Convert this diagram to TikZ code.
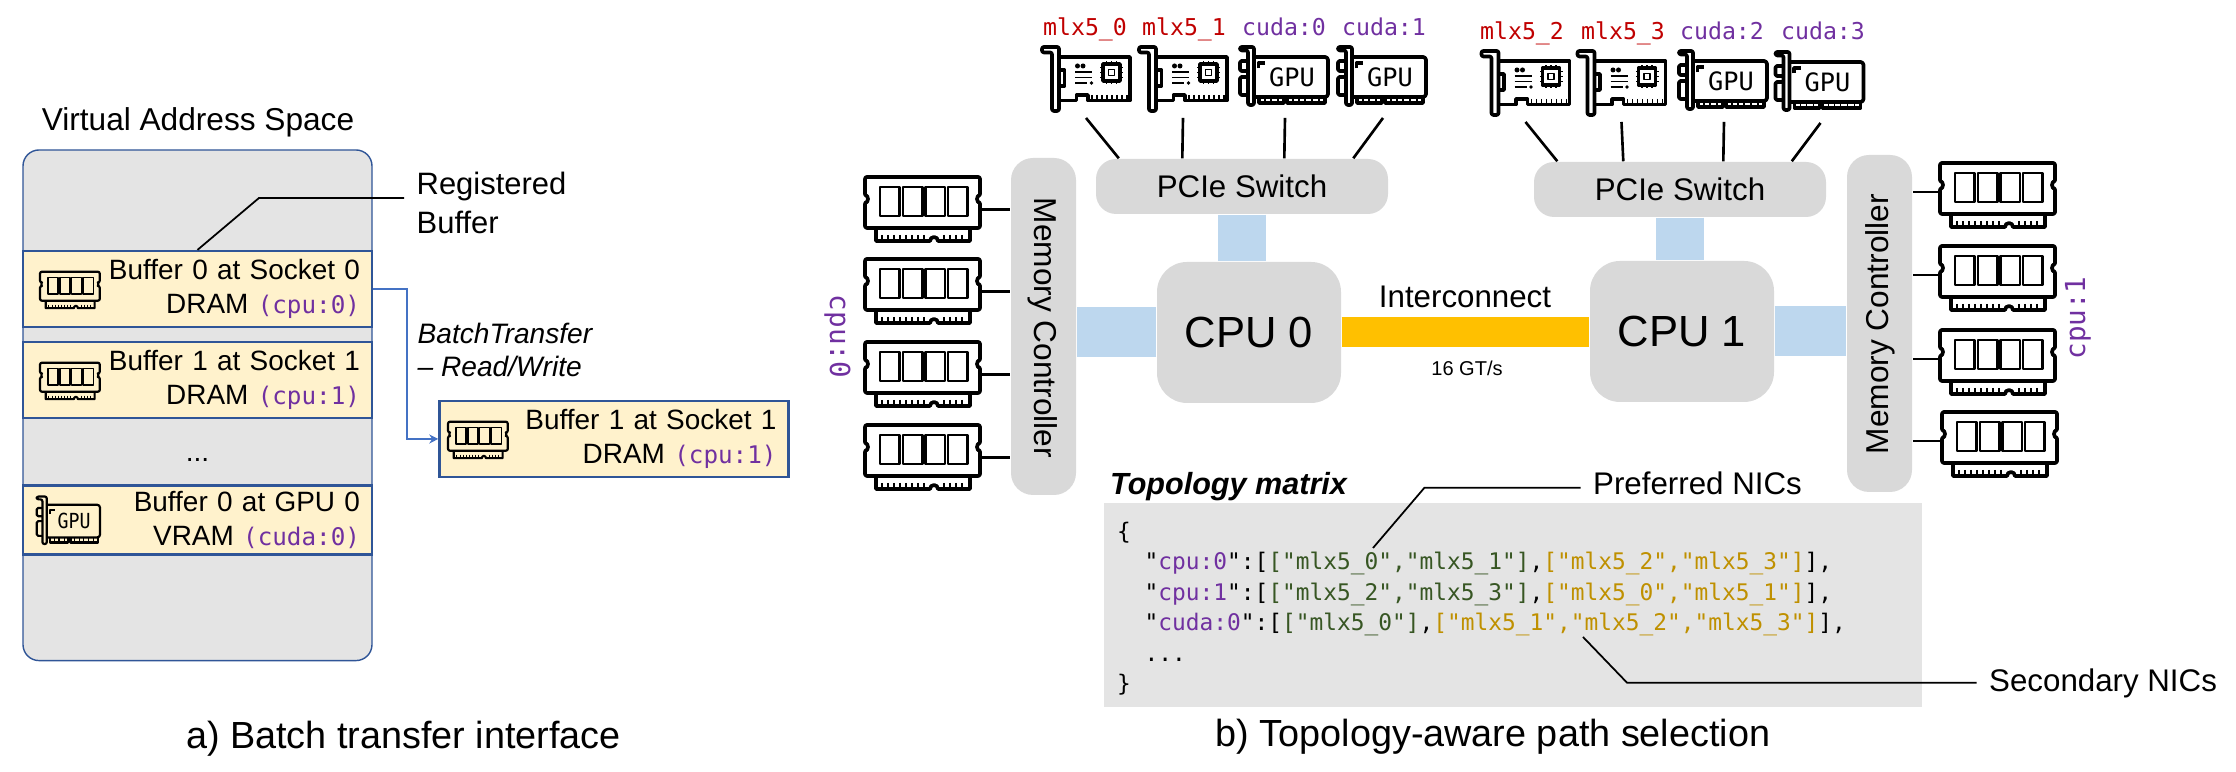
\documentclass[tikz,border=0pt]{standalone}
\usepackage{fontspec}
\setmainfont{Liberation Sans}
\newfontfamily\codefont{DejaVu Sans Mono}
\usetikzlibrary{calc,arrows.meta}

\definecolor{vasgray}{HTML}{E4E4E4}
\definecolor{blockgray}{HTML}{D9D9D9}
\definecolor{bufyellow}{HTML}{FFF2CC}
\definecolor{bufblue}{HTML}{2F5597}
\definecolor{xferblue}{HTML}{4472C4}
\definecolor{linkblue}{HTML}{BDD7EE}
\definecolor{upiorange}{HTML}{FFC000}
\definecolor{kpurple}{HTML}{7030A0}
\definecolor{kred}{HTML}{C00000}
\definecolor{kgreen}{HTML}{375623}
\definecolor{kgold}{HTML}{BF9000}

\newcommand{\pur}[1]{\textcolor{kpurple}{#1}}
\newcommand{\grn}[1]{\textcolor{kgreen}{#1}}
\newcommand{\gld}[1]{\textcolor{kgold}{#1}}
\newcommand{\devmono}[1]{\textcolor{kpurple}{\codefont\fontsize{6.9}{9.67}\selectfont #1}}

\tikzset{
    bufbox/.style={draw=bufblue, fill=bufyellow, line width=0.7pt, minimum width=3.49cm, minimum height=0.757cm,
        inner xsep=0.12cm, inner ysep=0pt, text width=3.25cm, align=right, font=\fontsize{7.95}{9.67}\selectfont},
    block/.style={fill=blockgray, inner sep=0pt},
    txt/.style={inner sep=0pt, anchor=base},
    capt/.style={txt, font=\fontsize{10.75}{13}\selectfont},
    calllabel/.style={inner sep=0.12cm, anchor=base west, font=\fontsize{8.9}{10.7}\selectfont},
    midtxt/.style={txt, font=\fontsize{8.9}{10.7}\selectfont},
    devname/.style={txt, font=\codefont\fontsize{6.6}{8}\selectfont},
    wire/.style={line width=0.75pt},
    leader/.style={line width=0.5pt},
    pcilink/.style={linkblue, line width=0.5cm},
    upilink/.style={upiorange, line width=0.3cm},
    bigicon/.style={line width=1.05pt, line join=round},
    smallicon/.style={line width=0.62pt, line join=round},
    ramicon/.pic={
        \draw[rounded corners=0.02cm] (0,0) -- (1.15,0) -- (1.15,-0.19) arc[start angle=90, end angle=270, radius=0.03] -- (1.15,-0.51)
            -- (0,-0.51) -- (0,-0.25) arc[start angle=-90, end angle=90, radius=0.03] -- cycle;
        \draw[line width=0.85\pgflinewidth] (0.15,-0.10) rectangle (0.345,-0.39);
        \draw[line width=0.85\pgflinewidth] (0.38,-0.10) rectangle (0.575,-0.39);
        \draw[line width=0.85\pgflinewidth] (0.605,-0.10) rectangle (0.80,-0.39);
        \draw[line width=0.85\pgflinewidth] (0.83,-0.10) rectangle (1.025,-0.39);
        \draw (0.11,-0.51) -- (0.11,-0.64) -- (0.65,-0.64) arc[start angle=180, end angle=0, radius=0.04]
            -- (1.05,-0.64) -- (1.05,-0.51);
        \foreach \tx in {0.17,0.23,0.29,0.35,0.41,0.47,0.53,0.59,0.79,0.85,0.91,0.97}
            \draw[line width=0.6\pgflinewidth] (\tx,-0.58) -- (\tx,-0.64);
        \coordinate (-lpin) at (0,-0.29);
        \coordinate (-rpin) at (1.15,-0.325);
    },
    nicicon/.pic={
        \draw[rounded corners=0.02cm] (0,-0.02) -- (0.17,-0.02) -- (0.17,-0.66) -- (0.10,-0.66) -- (0.10,-0.075) -- (0,-0.075) -- cycle;
        \draw (0.17,-0.12) -- (0.88,-0.12) -- (0.88,-0.555) -- (0.46,-0.555) -- (0.46,-0.50) -- (0.345,-0.50) -- (0.345,-0.555) -- (0.17,-0.555);
        \draw (0.17,-0.25) -- (0.225,-0.25) -- (0.225,-0.41) -- (0.17,-0.41);
        \foreach \tx in {0.50,0.55,0.60,0.65,0.70,0.75,0.80,0.85}
            \draw[line width=0.7\pgflinewidth] (\tx,-0.50) -- (\tx,-0.555);
        \fill (0.355,-0.21) circle (0.025);
        \fill (0.41,-0.21) circle (0.025);
        \draw[line width=0.7\pgflinewidth] (0.33,-0.27) -- (0.50,-0.27);
        \draw[line width=0.7\pgflinewidth] (0.33,-0.325) -- (0.50,-0.325);
        \draw[line width=0.7\pgflinewidth] (0.33,-0.38) -- (0.45,-0.38);
        \fill (0.495,-0.38) circle (0.018);
        \draw (0.61,-0.19) rectangle (0.78,-0.36);
        \draw[line width=0.7\pgflinewidth] (0.665,-0.245) rectangle (0.725,-0.305);
        \foreach \td in {-0.05,0,0.05} {
            \draw[line width=0.7\pgflinewidth] (0.695+\td,-0.19) -- (0.695+\td,-0.16);
            \draw[line width=0.7\pgflinewidth] (0.695+\td,-0.36) -- (0.695+\td,-0.39);
            \draw[line width=0.7\pgflinewidth] (0.61,-0.275+\td) -- (0.58,-0.275+\td);
            \draw[line width=0.7\pgflinewidth] (0.78,-0.275+\td) -- (0.81,-0.275+\td);
        }
        \coordinate (-pin) at (0.44,-0.73);
    },
    gpuicon/.pic={
        \draw[rounded corners=0.02cm] (0,-0.01) -- (0.14,-0.01) -- (0.14,-0.59) -- (0.08,-0.59) -- (0.08,-0.045) -- (0,-0.045) -- cycle;
        \draw[rounded corners=0.015cm] (0.08,-0.15) -- (0,-0.15) -- (0,-0.25) -- (0.08,-0.25);
        \draw[rounded corners=0.015cm] (0.08,-0.31) -- (0,-0.31) -- (0,-0.49) -- (0.08,-0.49);
        \draw[rounded corners=0.03cm] (0.14,-0.11) -- (0.88,-0.11) -- (0.88,-0.51) -- (0.14,-0.51);
        \draw (0.185,-0.225) -- (0.185,-0.17) -- (0.25,-0.17);
        \node[transform shape, inner sep=0pt, font=\codefont\fontsize{7.2}{9}\selectfont] (-txt) at (0.52,-0.31) {GPU};
        \draw (0.19,-0.51) -- (0.19,-0.57) -- (0.44,-0.57) -- (0.44,-0.51);
        \draw (0.47,-0.51) -- (0.47,-0.57) -- (0.85,-0.57) -- (0.85,-0.51);
        \foreach \tx in {0.25,0.31,0.38,0.53,0.59,0.65,0.72,0.79}
            \draw[line width=0.7\pgflinewidth] (\tx,-0.51) -- (\tx,-0.57);
        \coordinate (-pin) at (0.45,-0.72);
    },
}

\begin{document}
\begin{tikzpicture}
    \useasboundingbox (0,0) rectangle (22.36,7.72);

    \node[txt, font=\fontsize{9}{11}\selectfont] (vastitle) at (1.98,6.41) {Virtual Address Space};
    \node[draw=bufblue, fill=vasgray, line width=0.4pt, rounded corners=0.16cm, minimum width=3.49cm, minimum height=5.106cm] (vas) at (1.975,3.667) {};

    \node[bufbox] (buf0) at (1.975,4.83) {Buffer 0 at Socket 0\\DRAM \devmono{(cpu:0)}};
    \node[bufbox] (buf1) at (1.975,3.92) {Buffer 1 at Socket 1\\DRAM \devmono{(cpu:1)}};
    \node[txt, font=\fontsize{8}{9.67}\selectfont] (vasdots) at (1.975,3.10) {...};
    \node[bufbox, minimum height=0.69cm] (bufg) at (1.975,2.518) {Buffer 0 at GPU 0\\VRAM \devmono{(cuda:0)}};
    \node[bufbox, minimum width=3.48cm] (bufr) at (6.14,3.33) {Buffer 1 at Socket 1\\DRAM \devmono{(cpu:1)}};

    \pic[smallicon, xscale=0.52, yscale=0.57] (ramb0) at (0.40,5.003) {ramicon};
    \pic[smallicon, xscale=0.52, yscale=0.57] (ramb1) at (0.40,4.093) {ramicon};
    \pic[smallicon, xscale=0.52, yscale=0.57] (ramb2) at (4.48,3.503) {ramicon};
    \pic[smallicon, xscale=0.72, yscale=0.82] (gpub0) at (0.367,2.763) {gpuicon};

    \node[calllabel, anchor=west, align=left, font=\fontsize{8.8}{11}\selectfont] (regtxt) at (4.04,5.69) {Registered\\Buffer};
    \coordinate (regknee) at (2.59,5.74);
    \draw[leader] (buf0.north) -- (regknee) -- (regknee -| regtxt.west);

    \node[inner sep=0pt, anchor=west, align=left, font=\fontsize{8}{9.4}\selectfont\itshape] (xfertxt) at (4.17,4.225) {BatchTransfer\\– Read/Write};
    \draw[xferblue, line width=0.55pt, -{Stealth[length=0.09cm,width=0.09cm]}] (buf0.east) -- ++(0.336,0) |- (bufr.west);

    \node[capt] (capta) at (4.035,0.23) {a) Batch transfer interface};

    \node[block, rounded corners=0.22cm, minimum width=0.65cm, minimum height=3.37cm] (memA) at (10.435,4.455) {};
    \node[block, rounded corners=0.22cm, minimum width=0.65cm, minimum height=3.37cm] (memB) at (18.795,4.485) {};
    \node[midtxt, anchor=center, rotate=-90, font=\fontsize{9}{11}\selectfont] (memAtxt) at (10.43,4.44) {Memory Controller};
    \node[midtxt, anchor=center, rotate=90, font=\fontsize{9}{11}\selectfont] (memBtxt) at (18.80,4.48) {Memory Controller};

    \node[block, rounded corners=0.2cm, minimum width=2.92cm, minimum height=0.55cm, font=\fontsize{8.9}{10.7}\selectfont] (pcieA) at (12.42,5.855) {PCIe Switch};
    \node[block, rounded corners=0.2cm, minimum width=2.92cm, minimum height=0.55cm, font=\fontsize{8.9}{10.7}\selectfont] (pcieB) at (16.80,5.825) {PCIe Switch};
    \node[block, rounded corners=0.3cm, minimum width=1.84cm, minimum height=1.41cm, font=\fontsize{12.4}{15}\selectfont] (cpuA) at (12.49,4.395) {CPU 0};
    \node[block, rounded corners=0.3cm, minimum width=1.84cm, minimum height=1.41cm, font=\fontsize{12.4}{15}\selectfont] (cpuB) at (16.82,4.405) {CPU 1};

    \draw[pcilink, line width=0.48cm] (pcieA.south) -- (pcieA.south |- cpuA.north);
    \draw[pcilink, line width=0.48cm] (pcieB.south) -- (pcieB.south |- cpuB.north);
    \draw[pcilink] (cpuA.west) -- (cpuA.west -| memA.east);
    \draw[pcilink] (cpuB.east) -- (cpuB.east -| memB.west);
    \draw[upilink] (cpuA.east) -- (cpuA.east -| cpuB.west);
    \node[midtxt] (upitxt) at (14.65,4.64) {Interconnect};
    \node[txt, font=\fontsize{5.7}{7}\selectfont] (upirate) at (14.67,3.96) {16 GT/s};

    \node[devname, kred] (mlx0) at (10.85,7.36) {mlx5\_0};
    \node[devname, kred] (mlx1) at (11.84,7.36) {mlx5\_1};
    \node[devname, kpurple] (cuda0) at (12.84,7.36) {cuda:0};
    \node[devname, kpurple] (cuda1) at (13.84,7.36) {cuda:1};
    \node[devname, kred] (mlx2) at (15.22,7.327) {mlx5\_2};
    \node[devname, kred] (mlx3) at (16.23,7.327) {mlx5\_3};
    \node[devname, kpurple] (cuda2) at (17.22,7.327) {cuda:2};
    \node[devname, kpurple] (cuda3) at (18.23,7.327) {cuda:3};

    \pic[bigicon] (nicA) at (10.42,7.27) {nicicon};
    \pic[bigicon] (nicB) at (11.39,7.27) {nicicon};
    \pic[bigicon] (gpuA) at (12.40,7.26) {gpuicon};
    \pic[bigicon] (gpuB) at (13.38,7.26) {gpuicon};
    \pic[bigicon] (nicC) at (14.815,7.23) {nicicon};
    \pic[bigicon] (nicD) at (15.775,7.23) {nicicon};
    \pic[bigicon] (gpuC) at (16.79,7.22) {gpuicon};
    \pic[bigicon] (gpuD) at (17.755,7.21) {gpuicon};

    \draw[wire] (nicA-pin) -- ($(pcieA.north west)+(0.235,0)$);
    \draw[wire] (nicB-pin) -- ($(pcieA.north west)+(0.87,0)$);
    \draw[wire] (gpuA-pin) -- ($(pcieA.north west)+(1.89,0)$);
    \draw[wire] (gpuB-pin) -- ($(pcieA.north west)+(2.58,0)$);
    \draw[wire] (nicC-pin) -- ($(pcieB.north west)+(0.24,0)$);
    \draw[wire] (nicD-pin) -- ($(pcieB.north west)+(0.90,0)$);
    \draw[wire] (gpuC-pin) -- ($(pcieB.north west)+(1.90,0)$);
    \draw[wire] (gpuD-pin) -- ($(pcieB.north west)+(2.585,0)$);

    \pic[bigicon] (ramA0) at (8.65,5.95) {ramicon};
    \pic[bigicon] (ramA1) at (8.65,5.13) {ramicon};
    \pic[bigicon] (ramA2) at (8.65,4.30) {ramicon};
    \pic[bigicon] (ramA3) at (8.65,3.47) {ramicon};
    \pic[bigicon] (ramB0) at (19.40,6.09) {ramicon};
    \pic[bigicon] (ramB1) at (19.40,5.26) {ramicon};
    \pic[bigicon] (ramB2) at (19.40,4.42) {ramicon};
    \pic[bigicon] (ramB3) at (19.42,3.60) {ramicon};

    \draw[wire] (ramA0-rpin) -- (ramA0-rpin -| memA.west);
    \draw[wire] (ramA1-rpin) -- (ramA1-rpin -| memA.west);
    \draw[wire] (ramA2-rpin) -- (ramA2-rpin -| memA.west);
    \draw[wire] (ramA3-rpin) -- (ramA3-rpin -| memA.west);
    \draw[wire] (ramB0-lpin) -- (ramB0-lpin -| memB.east);
    \draw[wire] (ramB1-lpin) -- (ramB1-lpin -| memB.east);
    \draw[wire] (ramB2-lpin) -- (ramB2-lpin -| memB.east);
    \draw[wire] (ramB3-lpin) -- (ramB3-lpin -| memB.east);

    \node[devname, kpurple, rotate=-90, font=\codefont\fontsize{7.85}{9}\selectfont] (cpu0txt) at (8.30,4.355) {cpu:0};
    \node[devname, kpurple, rotate=90, font=\codefont\fontsize{7.85}{9}\selectfont] (cpu1txt) at (20.85,4.54) {cpu:1};

    \node[txt, anchor=base west, font=\fontsize{8.7}{10.5}\selectfont\bfseries\itshape] (topotitle) at (11.095,2.77) {Topology matrix};
    \node[fill=vasgray, inner sep=0pt, minimum width=8.18cm, minimum height=2.04cm] (topobox) at (15.13,1.673) {};
    \node[inner sep=0pt, text width=7.92cm, align=left, font=\codefont\fontsize{6.5}{8.68}\selectfont] (topocode) at (15.13,1.635) {\{\\
\phantom{xx}"\pur{cpu:0}":[\grn{["mlx5\_0","mlx5\_1"]},\gld{["mlx5\_2","mlx5\_3"]}],\\
\phantom{xx}"\pur{cpu:1}":[\grn{["mlx5\_2","mlx5\_3"]},\gld{["mlx5\_0","mlx5\_1"]}],\\
\phantom{xx}"\pur{cuda:0}":[\grn{["mlx5\_0"]},\gld{["mlx5\_1","mlx5\_2","mlx5\_3"]}],\\
\phantom{xx}...\\
\}};

    \node[calllabel] (preftxt) at (15.805,2.77) {Preferred NICs};
    \coordinate (prefknee) at (14.244,2.842);
    \coordinate (prefend) at (13.73,2.24);
    \draw[leader] (prefend) -- (prefknee) -- (prefknee -| preftxt.west);

    \node[calllabel] (sectxt) at (19.765,0.803) {Secondary NICs};
    \coordinate (secknee) at (16.27,0.893);
    \coordinate (secend) at (15.83,1.35);
    \draw[leader] (secend) -- (secknee) -- (secknee -| sectxt.west);

    \node[capt] (captb) at (14.93,0.25) {b) Topology-aware path selection};
\end{tikzpicture}
\end{document}
